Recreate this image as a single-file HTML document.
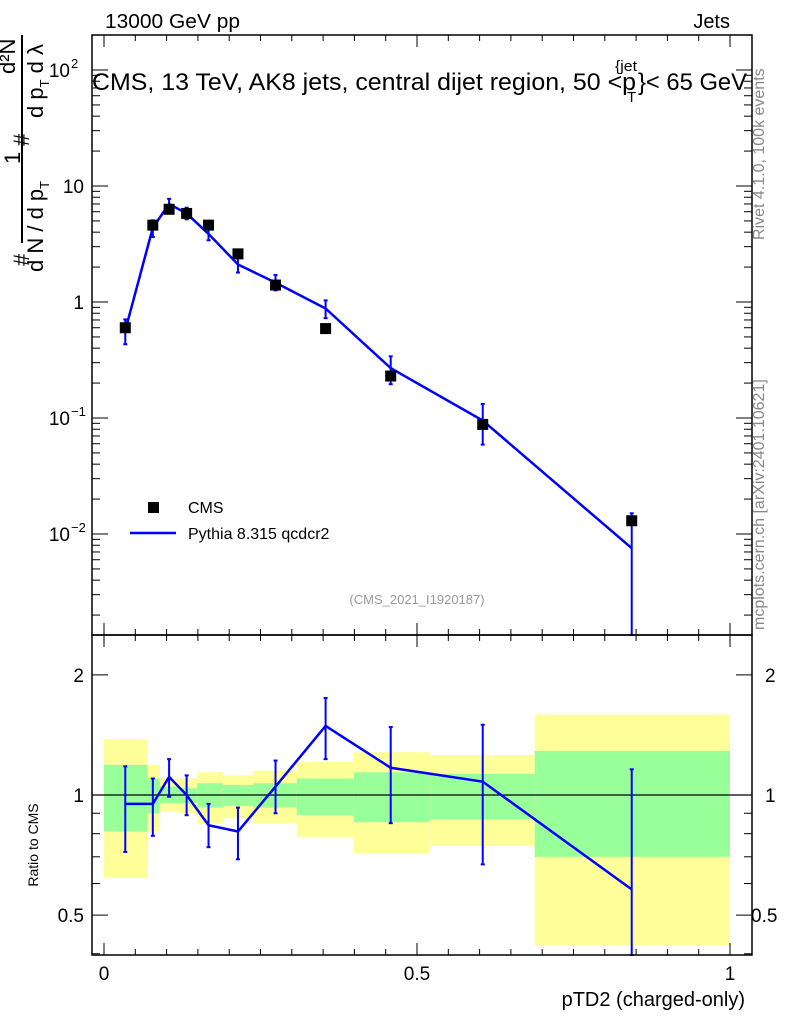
<!DOCTYPE html>
<html><head><meta charset="utf-8"><style>
body{margin:0;background:#fff}
svg{display:block;font-family:"Liberation Sans",sans-serif}
</style></head><body>
<svg id="c" width="786" height="1024" xmlns="http://www.w3.org/2000/svg">
<g id="bands"></g><g id="grid"></g><g id="marks"></g>
<rect x="92" y="35" width="660" height="600" fill="none" stroke="#000" stroke-width="1.5"/>
<rect x="92" y="635" width="660" height="320" fill="none" stroke="#000" stroke-width="1.5"/>
<text x="105" y="28" font-size="20" textLength="135" lengthAdjust="spacingAndGlyphs">13000 GeV pp</text>
<text x="730" y="28" font-size="20" text-anchor="end">Jets</text>
<g>
<text x="92" y="90" font-size="24" textLength="544" lengthAdjust="spacingAndGlyphs">CMS, 13 TeV, AK8 jets, central dijet region, 50 &lt;p</text>
<text x="615" y="71" font-size="15" textLength="22" lengthAdjust="spacingAndGlyphs">{jet</text>
<text x="627" y="102" font-size="15">T</text>
<text x="638" y="90" font-size="24" textLength="109" lengthAdjust="spacingAndGlyphs">}&lt; 65 GeV</text>
</g>
<text transform="translate(764,240) rotate(-90)" font-size="16" fill="#888">Rivet 4.1.0,  100k events</text>
<text transform="translate(764,630) rotate(-90)" font-size="16" fill="#888">mcplots.cern.ch [arXiv:2401.10621]</text>
<text x="417" y="604" font-size="13" fill="#999" text-anchor="middle">(CMS_2021_I1920187)</text>
<g>
<rect x="148" y="502" width="11" height="11" fill="#000"/>
<text x="188" y="513" font-size="16">CMS</text>
<line x1="130" y1="533" x2="176" y2="533" stroke="#00f" stroke-width="2.5"/>
<text x="188" y="539" font-size="16">Pythia 8.315 qcdcr2</text>
</g>
<g font-size="22">
<line x1="22" y1="35" x2="22" y2="243" stroke="#000" stroke-width="2"/>
<text transform="translate(15,74) rotate(-90)">d²N</text>
<text transform="translate(20,164) rotate(-90)">1</text>
<text transform="translate(29,266) rotate(-90)">#</text>
<text transform="translate(29,146) rotate(-90)">#</text>
<text transform="translate(43,272) rotate(-90)">d N / d p<tspan font-size="13" dy="6">T</tspan></text>
<text transform="translate(43,118) rotate(-90)">d p<tspan font-size="13" dy="6">T</tspan><tspan dy="-6"> d λ</tspan></text>
</g>
<text transform="translate(38,845) rotate(-90)" font-size="14" text-anchor="middle">Ratio to CMS</text>
<text x="745" y="1006" font-size="20" text-anchor="end">pTD2 (charged-only)</text>
</svg>
<script>
const binEdges=[0,0.070,0.089,0.118,0.149,0.190,0.238,0.308,0.399,0.521,0.688,1.0];
const xCenters=[0.034,0.078,0.104,0.132,0.167,0.214,0.274,0.354,0.458,0.605,0.843];
const cmsValues=[0.6,4.6,6.3,5.8,4.6,2.6,1.4,0.59,0.23,0.088,0.013];
const mcRatio=[0.95,0.95,1.11,1.0,0.84,0.81,1.05,1.49,1.17,1.08,0.58];
const mcRatioHi=[1.18,1.10,1.23,1.12,0.95,0.93,1.22,1.75,1.48,1.50,1.16];
const mcRatioLo=[0.72,0.79,0.99,0.89,0.74,0.69,0.90,1.23,0.85,0.67,0.001];
const yellowHi=[1.38,1.19,1.10,1.10,1.14,1.12,1.15,1.21,1.28,1.26,1.59];
const yellowLo=[0.62,0.81,0.91,0.90,0.85,0.875,0.85,0.785,0.715,0.745,0.42];
const greenHi=[1.19,1.10,1.05,1.04,1.07,1.06,1.07,1.10,1.14,1.13,1.29];
const greenLo=[0.81,0.90,0.955,0.955,0.93,0.94,0.93,0.89,0.855,0.87,0.70];
const xTicks=[0,0.5,1];const xTickLabels=["0","0.5","1"];
const yTicks=[-2,-1,0,1,2];const yTickLabels=["10","10","1","10","10"];const yTickExp=["−2","−1","","","2"];
const rTicks=[0.5,1,2];const rTickLabels=["0.5","1","2"];
const NS="http://www.w3.org/2000/svg";
const X=v=>104+v*626;
const Y=v=>302-116*Math.log10(v);
const R=v=>795-399*Math.log10(v);
function mk(p,t,a){const e=document.createElementNS(NS,t);for(const k in a)e.setAttribute(k,a[k]);document.getElementById(p).appendChild(e);return e;}
const clampT=v=>Math.max(35,Math.min(635,v)),clampR=v=>Math.max(635,Math.min(955,v));
for(let i=0;i<binEdges.length-1;i++){
 let e=mk('bands','rect',{x:X(binEdges[i]),y:R(yellowHi[i]),width:X(binEdges[i+1])-X(binEdges[i]),height:R(yellowLo[i])-R(yellowHi[i]),fill:'#ffff99'});
 
 
 e=mk('bands','rect',{x:X(binEdges[i]),y:R(greenHi[i]),width:X(binEdges[i+1])-X(binEdges[i]),height:R(greenLo[i])-R(greenHi[i]),fill:'#99ff99'});
 
 
}
let l=mk('grid','line',{x1:92,x2:752,y1:R(1),y2:R(1),stroke:'#000','stroke-width':1.2});


for(let v=0;v<=1.0001;v+=0.05){const maj=Math.abs(v*2-Math.round(v*2))<1e-6;const len=maj?12:6;
 for(const yb of [635,955]){mk('grid','line',{x1:X(v),x2:X(v),y1:yb,y2:yb-len,stroke:'#000'});}
 for(const yt of [35,635]){mk('grid','line',{x1:X(v),x2:X(v),y1:yt,y2:yt+len,stroke:'#000'});}}
xTicks.forEach((v,i)=>{const t=mk('grid','text',{x:X(v),y:980,'font-size':19,'text-anchor':'middle'});t.textContent=xTickLabels[i];
 
 });
for(let d=-3;d<=2;d++)for(let m=1;m<10;m++){const v=m*Math.pow(10,d);const y=Y(v);if(y<35||y>635)continue;const len=m==1?16:8;
 mk('grid','line',{x1:92,x2:92+len,y1:y,y2:y,stroke:'#000'});mk('grid','line',{x1:752,x2:752-len,y1:y,y2:y,stroke:'#000'});}
yTicks.forEach((d,i)=>{const t=mk('grid','text',{x:yTickExp[i]?70:84,y:Y(Math.pow(10,d))+7,'font-size':19,'text-anchor':'end'});t.textContent=yTickLabels[i];
 
 
 if(yTickExp[i]){const s=mk('grid','text',{x:71,y:Y(Math.pow(10,d))-2,'font-size':13});s.textContent=yTickExp[i];}});
for(let d=-1;d<=0;d++)for(let m=1;m<10;m++){const v=m*Math.pow(10,d);const y=R(v);if(y<635||y>955)continue;const maj=rTicks.includes(+v.toFixed(2));const len=maj?16:8;
 mk('grid','line',{x1:92,x2:92+len,y1:y,y2:y,stroke:'#000'});mk('grid','line',{x1:752,x2:752-len,y1:y,y2:y,stroke:'#000'});}
rTicks.forEach((v,i)=>{for(const [x,a] of [[84,'end'],[751,'start']]){const t=mk('grid','text',{x:x,y:R(v)+7,'font-size':19,'text-anchor':a});t.textContent=rTickLabels[i];
 if(a=='start'&&rTickLabels[i].length<2)t.setAttribute('x',765);
 
 }});
const mcVals=cmsValues.map((c,i)=>c*mcRatio[i]);
let p=mk('marks','polyline',{points:xCenters.map((x,i)=>X(x)+','+Y(mcVals[i])).join(' '),fill:'none',stroke:'#00f','stroke-width':2.5});


xCenters.forEach((x,i)=>{const y1=clampT(Y(cmsValues[i]*mcRatioHi[i])),y2=clampT(Y(cmsValues[i]*mcRatioLo[i]));
 mk('marks','line',{x1:X(x),x2:X(x),y1:y1,y2:y2,stroke:'#00f','stroke-width':2});
 mk('marks','line',{x1:X(x)-2,x2:X(x)+2,y1:y1,y2:y1,stroke:'#00f','stroke-width':2});
 mk('marks','line',{x1:X(x)-2,x2:X(x)+2,y1:y2,y2:y2,stroke:'#00f','stroke-width':2});
 const r=mk('marks','rect',{x:X(x)-5.5,y:Y(cmsValues[i])-5.5,width:11,height:11,fill:'#000'});
 
 });
p=mk('marks','polyline',{points:xCenters.map((x,i)=>X(x)+','+R(mcRatio[i])).join(' '),fill:'none',stroke:'#00f','stroke-width':2.5});


xCenters.forEach((x,i)=>{const y1=clampR(R(mcRatioHi[i])),y2=clampR(R(mcRatioLo[i]));
 mk('marks','line',{x1:X(x),x2:X(x),y1:y1,y2:y2,stroke:'#00f','stroke-width':2});
 mk('marks','line',{x1:X(x)-2,x2:X(x)+2,y1:y1,y2:y1,stroke:'#00f','stroke-width':2});
 mk('marks','line',{x1:X(x)-2,x2:X(x)+2,y1:y2,y2:y2,stroke:'#00f','stroke-width':2});});
</script>
</body></html>
